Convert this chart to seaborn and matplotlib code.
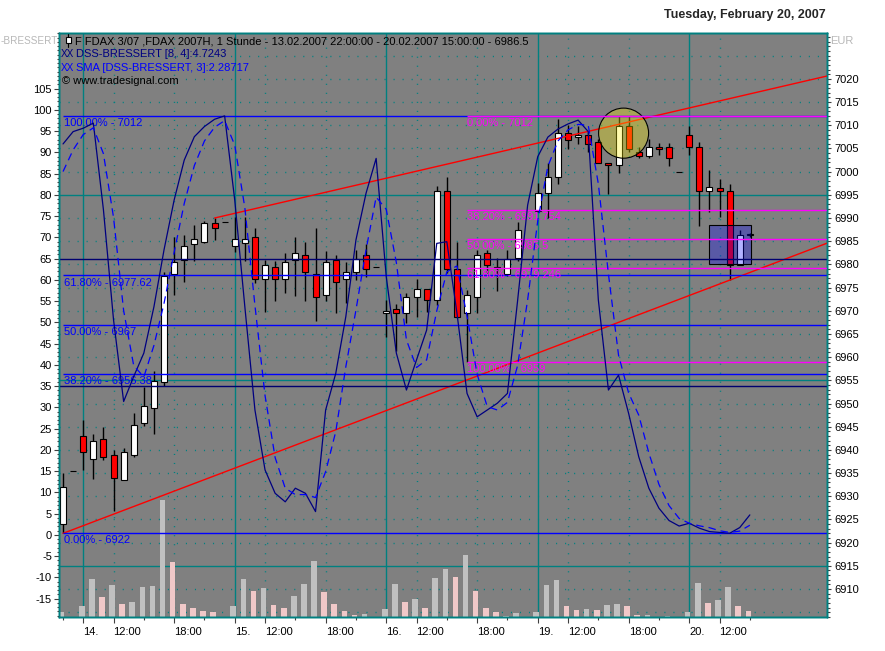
import numpy as np
import matplotlib
matplotlib.use('Agg')
import matplotlib.pyplot as plt
import matplotlib.transforms as mtrans
from matplotlib.patches import Ellipse, Rectangle
import seaborn as sns

sns.set_style('white')
plt.rcParams['font.family'] = ['Liberation Sans', 'DejaVu Sans']
plt.rcParams['font.size'] = 8
plt.rcParams['axes.unicode_minus'] = False

nan = np.nan

# ── Daten: FDAX 1h-Kerzen 13.02.2007 22:00 – 20.02.2007 15:00 ─────────
opens = [6924.0, 6935.4, 6943.0, 6938.0, 6942.3, 6938.8, 6933.5, 6938.8, 6945.9, 6949.0,
         6954.7, 6977.9, 6981.0, 6984.3, 6984.8, 6988.9, 6989.2, 6984.0, 6984.7, 6985.8,
         6976.8, 6979.4, 6976.8, 6981.0, 6982.0, 6977.9, 6973.4, 6980.9, 6976.8, 6978.3,
         6982.0, 6979.4, 6969.45, 6970.3, 6969.45, 6972.9, 6974.8, 6972.3, 6995.8, 6978.9,
         6969.45, 6972.9, 6982.4, 6979.4, 6977.9, 6981.3, nan, 6991.6, 6995.3, 6998.8,
         7008.3, 7007.4, 7007.8, 7006.3, 7001.9, 7001.4, 7009.8, 7004.3, 7003.4, 7005.25,
         7005.25, 7000.0, 7007.8, 7005.25, 6995.8, 6996.4, 6995.8, 6979.8, 6986.3]
highs = [6935.0, 6935.4, 6946.4, 6943.4, 6944.9, 6940.0, 6940.4, 6947.9, 6953.6, 6957.1,
         6978.4, 6985.8, 6986.3, 6988.5, 6989.4, 6990.0, 6989.2, 6990.3, 6990.3, 6987.9,
         6980.9, 6980.8, 6982.4, 6986.0, 6984.8, 6987.9, 6982.9, 6982.1, 6980.5, 6983.0,
         6984.5, 6979.4, 6972.3, 6971.5, 6973.9, 6976.8, 6974.8, 6997.0, 6998.9, 6984.9,
         6974.5, 6983.0, 6983.1, 6981.3, 6983.0, 6989.2, nan, 6997.5, 7001.8, 7011.3,
         7010.1, 7009.8, 7008.6, 7007.0, 7001.9, 7012.0, 7011.9, 7005.4, 7007.0, 7006.1,
         7006.1, 7000.0, 7009.8, 7006.4, 7000.4, 6998.4, 6997.3, 6987.4, 6986.7]
lows = [6922.0, 6935.4, 6935.7, 6933.7, 6937.8, 6926.9, 6933.5, 6938.4, 6945.2, 6943.4,
        6953.8, 6973.4, 6976.3, 6980.7, 6984.6, 6985.3, 6989.2, 6982.7, 6980.7, 6975.9,
        6969.8, 6972.2, 6973.8, 6973.2, 6972.2, 6967.9, 6972.2, 6969.5, 6971.6, 6976.6,
        6977.3, 6979.4, 6964.3, 6961.4, 6967.3, 6968.7, 6969.8, 6971.2, 6978.1, 6968.4,
        6959.0, 6969.45, 6978.1, 6974.3, 6977.6, 6980.8, nan, 6991.4, 6989.9, 6997.3,
        7004.8, 7005.9, 7004.3, 7001.8, 6995.2, 6999.8, 7004.3, 7002.9, 7002.9, 7003.6,
        7001.2, 7000.0, 7003.6, 6988.3, 6991.4, 6990.3, 6976.6, 6979.8, 6986.0]
closes = [6931.9, 6935.4, 6939.5, 6941.9, 6938.4, 6933.9, 6939.5, 6945.3, 6949.5, 6954.9,
          6977.5, 6980.5, 6984.0, 6985.4, 6988.9, 6987.8, 6989.2, 6985.4, 6985.4, 6976.8,
          6979.8, 6976.8, 6980.5, 6982.4, 6978.3, 6972.9, 6980.5, 6976.3, 6978.3, 6981.2,
          6978.9, 6979.4, 6969.9, 6969.45, 6972.9, 6974.8, 6972.3, 6995.8, 6978.9, 6968.7,
          6973.3, 6982.0, 6979.8, 6979.2, 6981.2, 6987.4, nan, 6995.3, 6998.8, 7008.3,
          7006.8, 7007.8, 7006.0, 7001.8, 7001.4, 7009.8, 7004.8, 7003.4, 7005.25, 7004.8,
          7002.9, 7000.0, 7005.25, 6995.8, 6996.75, 6995.8, 6979.8, 6986.3, 6986.5]
volume = [5, 0, 11, 38, 20, 32, 13, 15, 30, 31,
          116, 55, 13, 9, 6, 5, 0, 11, 38, 26,
          29, 12, 9, 21, 33, 56, 25, 13, 6, 1.5,
          2.5, 0, 8, 33, 15, 18, 9, 39, 47.5, 39.5,
          61.5, 26, 8.5, 4.5, 1, 3.5, 0, 4.5, 31.5, 36.5,
          10.5, 6.5, 7.5, 7.3, 11.5, 12.5, 10.5, 1.5, 1.6, 0.3,
          0.8, 0, 4.5, 33.5, 13.5, 16.5, 29.5, 10.5, 5.5]

# DSS-Bressert [8, 4] und SMA [3]
dss = [92.0, 94.9, 95.7, 96.9, 76.5, 50.6, 31.4, 37.3, 42.8, 53.7,
       67.1, 78.8, 88.2, 93.7, 96.1, 97.8, 98.6, 78.8, 53.7, 29.4,
       15.3, 9.8, 7.8, 11.0, 9.8, 5.5, 29.4, 38.0, 51.4, 69.4,
       80.4, 88.6, 60.8, 42.8, 34.1, 41.2, 48.2, 68.6, 69.0, 52.2,
       33.3, 27.8, 29.4, 31.0, 33.3, 55.0, 77.6, 89.0, 93.6, 95.5,
       96.7, 97.6, 94.9, 55.3, 34.1, 37.6, 28.6, 18.4, 11.0, 6.3,
       3.4, 2.1, 2.75, 1.6, 0.8, 0.6, 0.4, 1.74, 4.72]
sma = [85.5, 90.6, 94.2, 95.8, 89.7, 74.7, 52.8, 39.8, 37.2, 44.6,
       54.5, 66.5, 78.0, 86.9, 92.7, 95.9, 97.5, 91.7, 77.0, 54.0,
       32.8, 18.2, 11.0, 9.5, 9.5, 8.8, 14.9, 24.3, 39.6, 52.9,
       67.1, 79.5, 76.6, 64.1, 45.9, 39.4, 41.2, 52.7, 61.9, 63.3,
       51.5, 37.8, 30.2, 29.4, 31.2, 39.8, 55.3, 73.9, 86.7, 92.7,
       95.3, 96.6, 96.4, 82.6, 61.4, 42.3, 33.4, 28.2, 19.3, 11.9,
       6.9, 3.9, 2.75, 2.15, 1.72, 1.0, 0.6, 0.91, 2.29]

# Fibonacci-Retracements
fib1_levels = [7012, 6977.62, 6967, 6956.38, 6922]
fib1_labels = ['100.00% - 7012', '61.80% - 6977.62', '50.00% - 6967',
               '38.20% - 6956.38', '0.00% - 6922']
fib1_start = 0
fib2_levels = [7012, 6991.754, 6985.5, 6979.246, 6959]
fib2_labels = ['0.00% - 7012', '38.20% - 6991.754', '50.00% - 6985.5',
               '61.80% - 6979.246', '100.00% - 6959']
fib2_start = 40
osc_levels = [65, 35]

# Trendlinien (zwei Ankerpunkte: Index, Kurs)
trend_upper = [(15, 6990.0), (55, 7010.2)]
trend_lower = [(0, 6922.0), (66, 6976.6)]

# Markierungen
circle_mark = (55.5, 7008.3, 4.95, 10.8)     # x, y, Breite, Höhe
box_mark = (64.0, 6980.1, 4.1, 8.3)          # x, y, Breite, Höhe

# Achsen-Beschriftungen
day_ticks = [2, 17, 32, 47, 62]
day_labels = ['14.', '15.', '16.', '19.', '20.']
noon_ticks = [5, 20, 35, 50, 65]
eve_ticks = [11, 26, 41, 56]
minor_x = [0, 8, 14, 23, 29, 38, 44, 53, 59, 68]
solid_price = [6995, 6955, 6915]

TEAL = '#008080'
GREY = '#808080'
DOTS = (0, (0.8, 5.7))
X0, X1 = -0.4, 75.64

# ── Figure ─────────────────────────────────────────────────────
W, H = 885, 651
fig = plt.figure(figsize=(W / 100, H / 100), dpi=100)
ax_vol = fig.add_axes([59 / W, 1 - 617 / H, 768 / W, 584 / H], facecolor=GREY)
ax_px = ax_vol.twinx()
ax_osc = ax_vol.twinx()

idx = np.arange(len(closes))
o, h, l, c = map(np.array, (opens, highs, lows, closes))
vol = np.array(volume, dtype=float)

# Raster
trans_px = mtrans.blended_transform_factory(ax_vol.transData, ax_px.transData)
grid_levels = [p for p in range(6905, 7030, 5) if p not in solid_price]
ax_vol.hlines(grid_levels, X0, X1, transform=trans_px, colors=TEAL,
              linestyles=[DOTS], linewidth=1.0, zorder=0.5)
ax_vol.hlines(solid_price, X0, X1, transform=trans_px, colors=TEAL,
              linewidth=1, zorder=0.5)
xt = ax_vol.get_xaxis_transform()
ax_vol.vlines(day_ticks, 0, 1, transform=xt, colors=TEAL, linewidth=1, zorder=0.5)
ax_vol.vlines(noon_ticks + eve_ticks, 0, 1, transform=xt, colors=TEAL,
              linestyles=[DOTS], linewidth=1.0, zorder=0.5)

# Volumen: grau wenn größer als vorher, rosa sonst
prev = np.concatenate([[0], vol[:-1]])
vcol = np.where(vol > prev, '#c0c0c0', '#f0c8c8')
ax_vol.bar(idx - 0.15, vol, width=0.55, color=vcol, edgecolor='none',
           linewidth=0, zorder=1)
ax_vol.set_ylim(0, vol.max() / 0.2)

# Kerzen
ok = ~np.isnan(o)
up = c >= o
ax_px.vlines(idx[ok], l[ok], h[ok], colors='black', linewidth=1, zorder=3)
ax_px.bar(idx[ok], np.abs(c - o)[ok], bottom=np.minimum(o, c)[ok], width=0.6,
          color=np.where(up, 'white', '#ff0000')[ok], edgecolor='black',
          linewidth=0.8, zorder=4)

# Trendlinien
for (xa, ya), (xb, yb) in (trend_upper, trend_lower):
    slope = (yb - ya) / (xb - xa)
    ax_px.plot([xa, X1], [ya, ya + slope * (X1 - xa)], color='#ff0000',
               linewidth=1, zorder=5)

# Markierungen
cx, cy, cw, ch = circle_mark
ax_px.add_patch(Ellipse((cx, cy), cw, ch, facecolor=(1, 0.95, 0, 0.32),
                        edgecolor='black', linewidth=0.8, zorder=6))
bx, by, bw, bh = box_mark
ax_px.add_patch(Rectangle((bx, by), bw, bh, facecolor=(0, 0, 1, 0.3),
                          edgecolor='black', linewidth=0.8, zorder=6))

# Fibonacci-Linien und Oszillator-Niveaus (über den Kerzen)
ax_px.hlines(fib1_levels, fib1_start, X1, colors='#0000ff', linewidth=1, zorder=7)
ax_px.hlines(fib2_levels, fib2_start, X1, colors='#ff00ff', linewidth=1, zorder=7.5)
for lev, lab in zip(fib1_levels, fib1_labels):
    ax_px.annotate(lab, (fib1_start + 0.1, lev), xytext=(0, -1.5),
                   textcoords='offset points', va='top', ha='left',
                   color='#0000ff', fontsize=8, zorder=8)
for lev, lab in zip(fib2_levels, fib2_labels):
    ax_px.annotate(lab, (fib2_start, lev), xytext=(0, -1.5),
                   textcoords='offset points', va='top', ha='left',
                   color='#ff00ff', fontsize=8, zorder=8)
trans_osc = mtrans.blended_transform_factory(ax_px.transData, ax_osc.transData)
for lev in osc_levels:
    ax_px.plot([X0, X1], [lev, lev], transform=trans_osc, color='#000070',
               linewidth=1, zorder=7)

# Oszillator
sns.lineplot(x=idx, y=dss, ax=ax_osc, color='#000080', linewidth=0.9, errorbar=None)
sns.lineplot(x=idx, y=sma, ax=ax_osc, color='#0000ff', linewidth=0.9,
             linestyle=(0, (6, 4)), errorbar=None)
ax_osc.set_xlabel('')
ax_osc.set_ylabel('')

# ── Achsen ─────────────────────────────────────────────────────
for a in (ax_vol, ax_px, ax_osc):
    a.set_xlim(X0, X1)
    for s in a.spines.values():
        s.set_color(TEAL)
        s.set_linewidth(1)
ax_px.set_ylim(6903.96, 7029.9)
ax_osc.set_ylim(-19.3, 118.1)

ax_vol.set_yticks([])
ticks = day_ticks + noon_ticks + eve_ticks
labels = day_labels + ['12:00'] * len(noon_ticks) + ['18:00'] * len(eve_ticks)
order = np.argsort(ticks)
ax_vol.set_xticks(np.array(ticks)[order])
ax_vol.set_xticklabels(np.array(labels)[order], ha='left')
ax_vol.set_xticks(minor_x, minor=True)
ax_vol.tick_params(axis='x', which='major', length=4.5, width=0.8, color='#404040',
                   pad=3, labelsize=8, labelcolor='black', bottom=True)
ax_vol.tick_params(axis='x', which='minor', length=2.5, width=0.8, color='#404040',
                   bottom=True)

ax_px.set_yticks(np.arange(6910, 7021, 5))
ax_px.set_yticks(np.arange(6904, 7030, 1), minor=True)
ax_px.tick_params(axis='y', which='major', length=3, width=0.8, color='#404040',
                  pad=2, labelsize=8, labelcolor='black', right=True)
ax_px.tick_params(axis='y', which='minor', length=1.8, width=0.8, color='#404040',
                  right=True)

ax_osc.yaxis.tick_left()
ax_osc.set_yticks(np.arange(-15, 106, 5))
ax_osc.set_yticks(np.arange(-19, 119, 1), minor=True)
ax_osc.tick_params(axis='y', which='major', length=3.6, width=0.8, color='#404040',
                   pad=1.5, labelsize=8, labelcolor='black', left=True)
ax_osc.tick_params(axis='y', which='minor', length=1.8, width=0.8, color='#404040',
                   left=True)
ax_osc.tick_params(axis='x', bottom=False, labelbottom=False)
ax_px.tick_params(axis='x', bottom=False, labelbottom=False)

# ── Texte ──────────────────────────────────────────────────────
fig.text(826 / W, 1 - 15 / H, 'Tuesday, February 20, 2007', ha='right', va='center',
         fontsize=9, fontweight='bold')
fig.text(1 / W, 1 - 41 / H, '-BRESSERT', ha='left', va='center',
         color='#b8b8b8', fontsize=7.2)
fig.text(830 / W, 1 - 41 / H, 'EUR', ha='left', va='center', color='#b8b8b8', fontsize=8)

fig.patches.append(Rectangle((65.5 / W, 1 - 43 / H), 5 / W, 6 / H, transform=fig.transFigure,
                             facecolor='white', edgecolor='black', linewidth=0.8))
fig.lines.append(plt.Line2D([68 / W, 68 / W], [1 - 47 / H, 1 - 43 / H],
                            transform=fig.transFigure, color='black', linewidth=0.8))
fig.lines.append(plt.Line2D([68 / W, 68 / W], [1 - 37 / H, 1 - 34 / H],
                            transform=fig.transFigure, color='black', linewidth=0.8))
fig.text(75 / W, 1 - 41 / H,
         'F FDAX 3/07 ,FDAX 2007H, 1 Stunde - 13.02.2007 22:00:00 - 20.02.2007 15:00:00 - 6986.5',
         ha='left', va='center', color='black', fontsize=8)
fig.text(61 / W, 1 - 54 / H, 'XX', ha='left', va='center', color='#000080', fontsize=7.2)
fig.text(76 / W, 1 - 54 / H, 'DSS-BRESSERT [8, 4]:4.7243', ha='left', va='center',
         color='#000080', fontsize=8)
fig.text(61 / W, 1 - 68 / H, 'XX', ha='left', va='center', color='#0000ff', fontsize=7.2)
fig.text(76 / W, 1 - 68 / H, 'SMA [DSS-BRESSERT, 3]:2.28717', ha='left', va='center',
         color='#0000ff', fontsize=8)
fig.text(62 / W, 1 - 81 / H, '© www.tradesignal.com', ha='left', va='center',
         color='black', fontsize=8)

fig.savefig('out.png', dpi=100, facecolor='white')
